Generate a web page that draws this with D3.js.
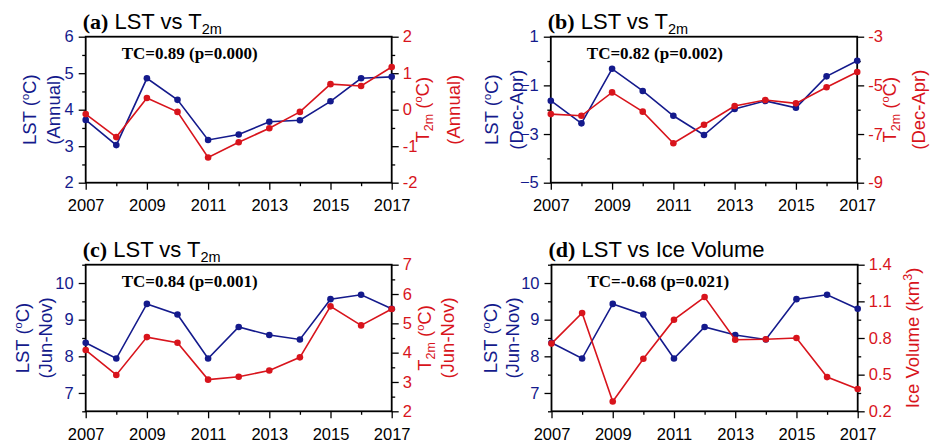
<!DOCTYPE html>
<html>
<head>
<meta charset="utf-8">
<script src="https://cdn.jsdelivr.net/npm/d3@7"></script>
<style>
  html, body { margin: 0; padding: 0; background: #fff; }
  svg { display: block; }
</style>
</head>
<body>
<svg id="chart" width="936" height="446"></svg>
<script>
// ---------- data ----------
const years = [2007, 2008, 2009, 2010, 2011, 2012, 2013, 2014, 2015, 2016, 2017];
const yearLabels = [2007, 2009, 2011, 2013, 2015, 2017];

const lstAnnual = [3.72, 3.03, 4.86, 4.27, 3.17, 3.32, 3.67, 3.71, 4.23, 4.86, 4.90];
const t2mAnnual = [-0.12, -0.75, 0.32, -0.06, -1.31, -0.89, -0.51, -0.06, 0.70, 0.65, 1.17];
const lstDecApr = [-1.63, -2.56, -0.32, -1.23, -2.25, -3.04, -1.97, -1.64, -1.92, -0.63, 0.01];
const t2mDecApr = [-6.18, -6.25, -5.29, -6.08, -7.38, -6.62, -5.85, -5.60, -5.74, -5.08, -4.45];
const lstJunNov = [8.37, 7.94, 9.43, 9.14, 7.94, 8.80, 8.58, 8.46, 9.56, 9.68, 9.30];
const t2mJunNov = [4.09, 3.24, 4.53, 4.34, 3.08, 3.18, 3.39, 3.84, 5.58, 4.93, 5.49];
const iceVolume = [0.754, 1.005, 0.28, 0.63, 0.95, 1.135, 0.786, 0.79, 0.80, 0.48, 0.383];

const tcLabels = ["TC=0.89 (p=0.000)", "TC=0.82 (p=0.002)", "TC=0.84 (p=0.001)", "TC=-0.68 (p=0.021)"];
const panelLetters = ["(a)", "(b)", "(c)", "(d)"];
const seasons = ["Annual", "Dec-Apr", "Jun-Nov", "Jun-Nov"];

const leftDomains = [[2, 6], [-5, 1], [6.5, 10.5], [6.5, 10.5]];
const rightDomains = [[-2, 2], [-9, -3], [2, 7], [0.2, 1.4]];
const leftMajor = [[2, 3, 4, 5, 6], [-5, -3, -1, 1], [7, 8, 9, 10], [7, 8, 9, 10]];
const leftMinor = [[2.5, 3.5, 4.5, 5.5], [-4, -2, 0], [6.5, 7.5, 8.5, 9.5, 10.5], [6.5, 7.5, 8.5, 9.5, 10.5]];
const rightMajor = [[-2, -1, 0, 1, 2], [-9, -7, -5, -3], [2, 3, 4, 5, 6, 7], [0.2, 0.5, 0.8, 1.1, 1.4]];
const rightMinor = [[-1.5, -0.5, 0.5, 1.5], [-8, -6, -4], [2.5, 3.5, 4.5, 5.5, 6.5], [0.35, 0.65, 0.95, 1.25]];
const rightFormats = [".0f", ".0f", ".0f", ".1f"];

// ---------- layout / style ----------
const BLUE = "#141a8c";
const RED = "#d8141c";
const SANS = "'Liberation Sans', Arial, Helvetica, sans-serif";
const SERIF = "'Liberation Serif', 'Times New Roman', serif";

const boxes = [
  { x0: 85.7, x1: 391.7, y0: 36.7, y1: 182.7 },
  { x0: 550.8, x1: 857.2, y0: 36.7, y1: 182.7 },
  { x0: 85.7, x1: 391.7, y0: 264.7, y1: 411.3 },
  { x0: 551.5, x1: 857.7, y0: 264.7, y1: 411.3 }
];
const leftLabelOffsets = [[56.5, 32], [59, 34], [63, 40.5], [61, 38.5]];
const rightLabelOffsets = [[30.5, 62], [32.5, 61], [33, 55.5], [55, 0]];

const panels = [
  { left: lstAnnual, right: t2mAnnual, rightKind: "t2m" },
  { left: lstDecApr, right: t2mDecApr, rightKind: "t2m" },
  { left: lstJunNov, right: t2mJunNov, rightKind: "t2m" },
  { left: lstJunNov, right: iceVolume, rightKind: "ice" }
];

const svg = d3.select("#chart");

panels.forEach((p, i) => {
  const b = boxes[i];
  const g = svg.append("g");
  const x = d3.scaleLinear().domain([years[0], years[years.length - 1]]).range([b.x0, b.x1]);
  const yL = d3.scaleLinear().domain(leftDomains[i]).range([b.y1, b.y0]);
  const yR = d3.scaleLinear().domain(rightDomains[i]).range([b.y1, b.y0]);

  // bottom axis
  const xAxis = g.append("g").attr("transform", `translate(0,${b.y1})`);
  xAxis.call(d3.axisBottom(x).tickValues(years.filter(y => !yearLabels.includes(y))).tickSize(3.5).tickFormat(""));
  xAxis.append("g").call(d3.axisBottom(x).tickValues(yearLabels).tickSize(7).tickPadding(10).tickFormat(d3.format("d")));
  xAxis.selectAll(".domain").remove();
  xAxis.selectAll("text").attr("font-family", SANS).attr("font-size", 16.5).attr("fill", "#000");

  // left axis
  const lAxis = g.append("g").attr("transform", `translate(${b.x0},0)`);
  lAxis.call(d3.axisLeft(yL).tickValues(leftMinor[i]).tickSize(3.5).tickFormat(""));
  lAxis.append("g").call(d3.axisLeft(yL).tickValues(leftMajor[i]).tickSize(7).tickPadding(5).tickFormat(d3.format(".0f")));
  lAxis.selectAll(".domain").remove();
  lAxis.selectAll("text").attr("font-family", SANS).attr("font-size", 16.5).attr("fill", BLUE);

  // right axis
  const rAxis = g.append("g").attr("transform", `translate(${b.x1},0)`);
  rAxis.call(d3.axisRight(yR).tickValues(rightMinor[i]).tickSize(3.5).tickFormat(""));
  rAxis.append("g").call(d3.axisRight(yR).tickValues(rightMajor[i]).tickSize(7).tickPadding(4)
    .tickFormat(d => d3.format(rightFormats[i])(d).replace("−", "-")));
  rAxis.selectAll(".domain").remove();
  rAxis.selectAll("text").attr("font-family", SANS).attr("font-size", 16.5).attr("fill", RED);

  g.selectAll(".tick line").attr("stroke", "#000").attr("stroke-width", 1.3);

  // frame
  g.append("rect")
    .attr("x", b.x0).attr("y", b.y0)
    .attr("width", b.x1 - b.x0).attr("height", b.y1 - b.y0)
    .attr("fill", "none").attr("stroke", "#000").attr("stroke-width", 1.8);

  // series
  const lineL = d3.line().x((d, k) => x(years[k])).y(d => yL(d));
  const lineR = d3.line().x((d, k) => x(years[k])).y(d => yR(d));
  g.append("path").datum(p.left).attr("d", lineL).attr("fill", "none").attr("stroke", BLUE).attr("stroke-width", 1.6);
  g.selectAll(".pl").data(p.left).enter().append("circle")
    .attr("cx", (d, k) => x(years[k])).attr("cy", d => yL(d)).attr("r", 3.3).attr("fill", BLUE);
  g.append("path").datum(p.right).attr("d", lineR).attr("fill", "none").attr("stroke", RED).attr("stroke-width", 1.6);
  g.selectAll(".pr").data(p.right).enter().append("circle")
    .attr("cx", (d, k) => x(years[k])).attr("cy", d => yR(d)).attr("r", 3.3).attr("fill", RED);

  // title
  const title = g.append("text").attr("x", b.x0 - 3).attr("y", b.y0 - 8).attr("font-size", 22).attr("fill", "#000");
  title.append("tspan").attr("font-family", SERIF).attr("font-weight", "bold").text(panelLetters[i]);
  if (p.rightKind === "t2m") {
    title.append("tspan").attr("font-family", SANS).text(" LST vs T");
    title.append("tspan").attr("font-family", SANS).attr("font-size", 14.5).attr("dy", 5).text("2m");
  } else {
    title.append("tspan").attr("font-family", SANS).text(" LST vs Ice Volume");
  }

  // TC text
  g.append("text").attr("x", b.x0 + 36).attr("y", b.y0 + 22)
    .attr("font-family", SERIF).attr("font-weight", "bold").attr("font-size", 17)
    .attr("fill", "#000").text(tcLabels[i]);

  const cy = (b.y0 + b.y1) / 2;
  // left label
  const [off1, off2] = leftLabelOffsets[i];
  const ll1 = g.append("text").attr("transform", `translate(${b.x0 - off1},${cy}) rotate(-90)`)
    .attr("text-anchor", "middle").attr("dy", "0.35em")
    .attr("font-family", SANS).attr("font-size", 18.5).attr("fill", BLUE);
  ll1.append("tspan").text("LST (");
  ll1.append("tspan").attr("font-size", 11).attr("dy", -7).text("o");
  ll1.append("tspan").attr("dy", 7).text("C)");
  g.append("text").attr("transform", `translate(${b.x0 - off2},${cy}) rotate(-90)`)
    .attr("text-anchor", "middle").attr("dy", "0.35em")
    .attr("font-family", SANS).attr("font-size", 18.5).attr("fill", BLUE)
    .text(`(${seasons[i]})`);

  // right label
  const [r1, r2] = rightLabelOffsets[i];
  if (p.rightKind === "t2m") {
    const rl = g.append("text").attr("transform", `translate(${b.x1 + r1},${cy}) rotate(-90)`)
      .attr("text-anchor", "middle").attr("dy", "0.35em")
      .attr("font-family", SANS).attr("font-size", 18.5).attr("fill", RED);
    rl.append("tspan").text("T");
    rl.append("tspan").attr("font-size", 12.5).attr("dy", 4).text("2m");
    rl.append("tspan").attr("dy", -4).text(" (");
    rl.append("tspan").attr("font-size", 11).attr("dy", -7).text("o");
    rl.append("tspan").attr("dy", 7).text("C)");
    g.append("text").attr("transform", `translate(${b.x1 + r2},${cy}) rotate(-90)`)
      .attr("text-anchor", "middle").attr("dy", "0.35em")
      .attr("font-family", SANS).attr("font-size", 18.5).attr("fill", RED)
      .text(`(${seasons[i]})`);
  } else {
    const rl = g.append("text").attr("transform", `translate(${b.x1 + r1},${cy}) rotate(-90)`)
      .attr("text-anchor", "middle").attr("dy", "0.35em")
      .attr("font-family", SANS).attr("font-size", 18.5).attr("fill", RED);
    rl.append("tspan").text("Ice Volume (km");
    rl.append("tspan").attr("font-size", 12.5).attr("dy", -7).text("3");
    rl.append("tspan").attr("dy", 7).text(")");
  }
});
</script>
</body>
</html>
